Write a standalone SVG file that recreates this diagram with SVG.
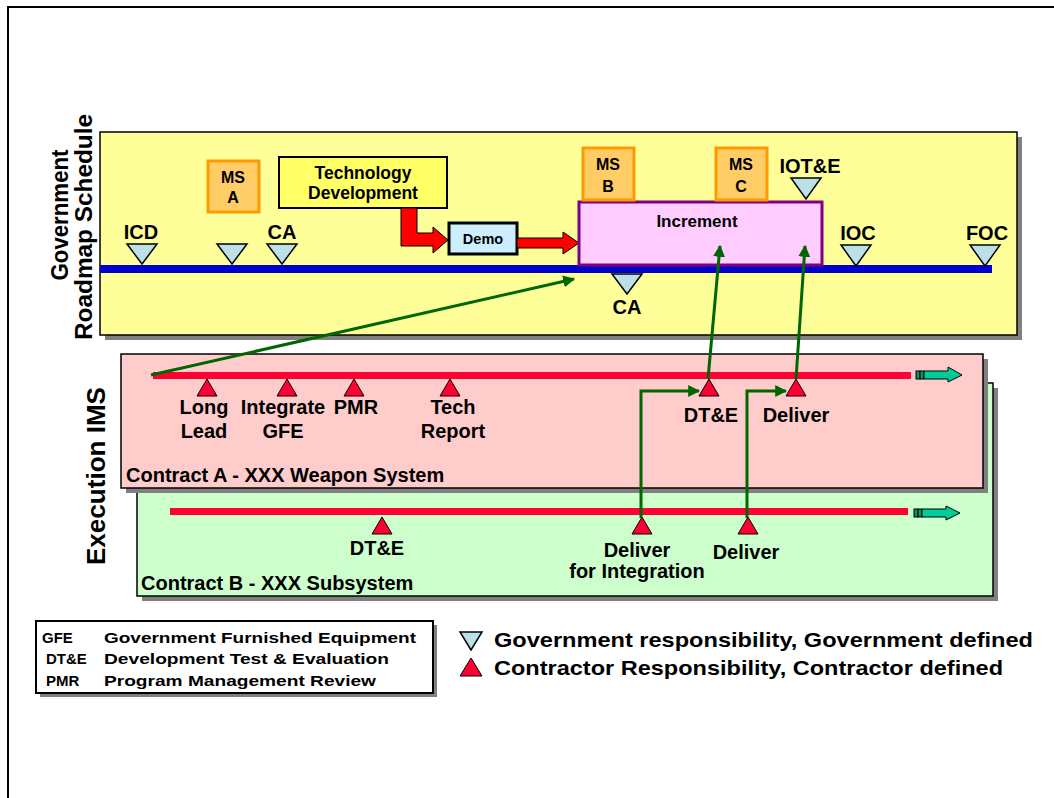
<svg xmlns="http://www.w3.org/2000/svg" width="1054" height="798" viewBox="0 0 1054 798">
<defs>
<style>
text{font-family:"Liberation Sans",Arial,sans-serif;font-weight:bold;fill:#000}
.lbl{font-size:20px;text-anchor:middle}
.ms{font-size:16px;text-anchor:middle}
.shadow{fill:#808080}
.gov{fill:#bde0e6;stroke:#000;stroke-width:1.5}
.con{fill:#ff0033;stroke:#000;stroke-width:1}
.msbox{fill:#ffcc66;stroke:#ff9900;stroke-width:3}
.grn{fill:none;stroke:#006600;stroke-width:3}
.redarrow{fill:#ff0000;stroke:#000;stroke-width:1}
.teal{fill:#00cc99;stroke:#000;stroke-width:1}
.leg{font-size:15px}
</style>
<marker id="gh" viewBox="0 0 10 10" refX="9" refY="5" markerWidth="4" markerHeight="4" orient="auto" markerUnits="strokeWidth">
<path d="M0,0 L10,5 L0,10 z" fill="#006600"/>
</marker>
</defs>
<rect width="1054" height="798" fill="#fff"/>
<path d="M8,798 V7 H1054" fill="none" stroke="#000" stroke-width="2"/>

<g id="roadmap-panel">
<rect x="105" y="137" width="917" height="203" class="shadow"/>
<rect x="100" y="132" width="917" height="203" fill="#ffff99" stroke="#000" stroke-width="1.5"/>
<rect x="100" y="265" width="892" height="8" fill="#0000cc"/>
</g>
<g id="label-roadmap">
<text transform="translate(68,215) rotate(-90)" font-size="24" text-anchor="middle" textLength="131" lengthAdjust="spacingAndGlyphs">Government</text>
<text transform="translate(92,227) rotate(-90)" font-size="24" text-anchor="middle" textLength="226" lengthAdjust="spacingAndGlyphs">Roadmap Schedule</text>
</g>
<g id="label-ims">
<text transform="translate(105,476) rotate(-90)" font-size="25" text-anchor="middle" textLength="178" lengthAdjust="spacingAndGlyphs">Execution IMS</text>
</g>

<g id="ms-icd"><polygon class="gov" points="127,244 157,244 142,264"/><text class="lbl" x="141" y="239">ICD</text></g>
<g id="ms-a-tri"><polygon class="gov" points="217,244 247,244 232,264"/></g>
<g id="ms-ca1"><polygon class="gov" points="267,244 297,244 282,264"/><text class="lbl" x="282" y="239">CA</text></g>
<g id="ms-a"><rect class="msbox" x="208" y="161" width="51" height="51"/><text class="ms" x="233" y="183">MS</text><text class="ms" x="233" y="203">A</text></g>
<g id="tech-dev"><rect x="279" y="157" width="168" height="51" fill="#ffff66" stroke="#000" stroke-width="2"/><text x="363" y="179" font-size="17.5" text-anchor="middle">Technology</text><text x="363" y="199" font-size="17.5" text-anchor="middle">Development</text></g>
<g id="arrow-td-demo"><polygon class="redarrow" points="401,208 417,208 417,233 433,233 433,227 448,240 433,253 433,246 401,246"/></g>
<g id="demo"><rect x="449" y="223" width="68" height="31" fill="#cceeff" stroke="#000" stroke-width="3"/><text x="483" y="244" font-size="14.5" text-anchor="middle">Demo</text></g>
<g id="arrow-demo-inc"><polygon class="redarrow" points="517,238 563,238 563,232 579,243 563,254 563,248 517,248"/></g>
<g id="increment"><rect x="579" y="202" width="243" height="63" fill="#ffccff" stroke="#800080" stroke-width="3"/><text x="697" y="227" font-size="17" text-anchor="middle">Increment</text></g>
<g id="ms-b"><rect class="msbox" x="583" y="148" width="51" height="52"/><text class="ms" x="608" y="170">MS</text><text class="ms" x="608" y="192">B</text></g>
<g id="ms-c"><rect class="msbox" x="716" y="148" width="51" height="52"/><text class="ms" x="741" y="170">MS</text><text class="ms" x="741" y="192">C</text></g>
<g id="ms-iote"><polygon class="gov" points="791,178 821,178 806,199"/><text class="lbl" x="810" y="173">IOT&amp;E</text></g>
<g id="ms-ca2"><polygon class="gov" points="612,274 642,274 627,294"/><text class="lbl" x="627" y="314">CA</text></g>
<g id="ms-ioc"><polygon class="gov" points="841,245 871,245 856,266"/><text class="lbl" x="858" y="240">IOC</text></g>
<g id="ms-foc"><polygon class="gov" points="970,245 1000,245 985,266"/><text class="lbl" x="987" y="240">FOC</text></g>

<g id="contract-b">
<rect x="142" y="388" width="856" height="213" class="shadow"/>
<rect x="137" y="383" width="856" height="213" fill="#ccffcc" stroke="#000" stroke-width="1.5"/>
<rect x="170" y="508" width="738" height="7" fill="#ff0033"/>
<rect x="914" y="509" width="4" height="8" fill="#009966" stroke="#000" stroke-width="1"/>
<rect x="918" y="509" width="4" height="8" fill="#009966" stroke="#000" stroke-width="1"/>
<polygon class="teal" points="922,509 946,509 946,506 960,513 946,520 946,517 922,517"/>
<text x="141" y="590" font-size="20">Contract B - XXX Subsystem</text>
</g>
<g id="contract-a">
<rect x="126" y="359" width="862" height="134" class="shadow"/>
<rect x="121" y="354" width="862" height="134" fill="#ffcccc" stroke="#000" stroke-width="1.5"/>
<rect x="153" y="372" width="758" height="7" fill="#ff0033"/>
<rect x="916" y="371" width="4" height="8" fill="#009966" stroke="#000" stroke-width="1"/>
<rect x="920" y="371" width="4" height="8" fill="#009966" stroke="#000" stroke-width="1"/>
<polygon class="teal" points="924,371 948,371 948,367 962,375 948,382 948,379 924,379"/>
<text x="126" y="482" font-size="20">Contract A - XXX Weapon System</text>
</g>

<g id="a-longlead"><polygon class="con" points="197,396 217,396 207,379"/><text class="lbl" x="204" y="414">Long</text><text class="lbl" x="204" y="438">Lead</text></g>
<g id="a-integrate"><polygon class="con" points="277,396 297,396 287,379"/><text class="lbl" x="283" y="414">Integrate</text><text class="lbl" x="283" y="438">GFE</text></g>
<g id="a-pmr"><polygon class="con" points="344,396 364,396 354,379"/><text class="lbl" x="356" y="414">PMR</text></g>
<g id="a-tech"><polygon class="con" points="440,396 460,396 450,379"/><text class="lbl" x="453" y="414">Tech</text><text class="lbl" x="453" y="438">Report</text></g>
<g id="a-dte"><polygon class="con" points="699,396 719,396 709,379"/><text class="lbl" x="711" y="422">DT&amp;E</text></g>
<g id="a-deliver"><polygon class="con" points="786,396 806,396 796,379"/><text class="lbl" x="796" y="422">Deliver</text></g>
<g id="b-dte"><polygon class="con" points="372,534 392,534 382,517"/><text class="lbl" x="377" y="555">DT&amp;E</text></g>
<g id="b-deliver-int"><polygon class="con" points="632,534 652,534 642,517"/><text class="lbl" x="637" y="557">Deliver</text><text class="lbl" x="637" y="578">for Integration</text></g>
<g id="b-deliver"><polygon class="con" points="738,534 758,534 748,517"/><text class="lbl" x="746" y="559">Deliver</text></g>

<g id="connectors">
<path class="grn" d="M151,375 L574,279" marker-end="url(#gh)"/>
<path class="grn" d="M708,379 L720,246" marker-end="url(#gh)"/>
<path class="grn" d="M796,379 L805,246" marker-end="url(#gh)"/>
<path class="grn" d="M641,518 V391 H699" marker-end="url(#gh)"/>
<path class="grn" d="M747,518 V391 H786" marker-end="url(#gh)"/>
</g>

<g id="legend-abbrev">
<rect x="40" y="625" width="397" height="72" class="shadow"/>
<rect x="36" y="621" width="397" height="72" fill="#fff" stroke="#000" stroke-width="2"/>
<text class="leg" x="42" y="643">GFE</text>
<text class="leg" x="46" y="664">DT&amp;E</text>
<text class="leg" x="46" y="686">PMR</text>
<text class="leg" x="104" y="643" textLength="312" lengthAdjust="spacingAndGlyphs">Government Furnished Equipment</text>
<text class="leg" x="104" y="664" textLength="285" lengthAdjust="spacingAndGlyphs">Development Test &amp; Evaluation</text>
<text class="leg" x="104" y="686" textLength="272" lengthAdjust="spacingAndGlyphs">Program Management Review</text>
</g>
<g id="legend-symbols">
<polygon class="gov" points="460,632 482,632 471,650"/>
<text x="494" y="647" font-size="21" textLength="539" lengthAdjust="spacingAndGlyphs">Government responsibility, Government defined</text>
<polygon class="con" points="460,676 482,676 471,658"/>
<text x="494" y="675" font-size="21" textLength="509" lengthAdjust="spacingAndGlyphs">Contractor Responsibility, Contractor defined</text>
</g>
</svg>
